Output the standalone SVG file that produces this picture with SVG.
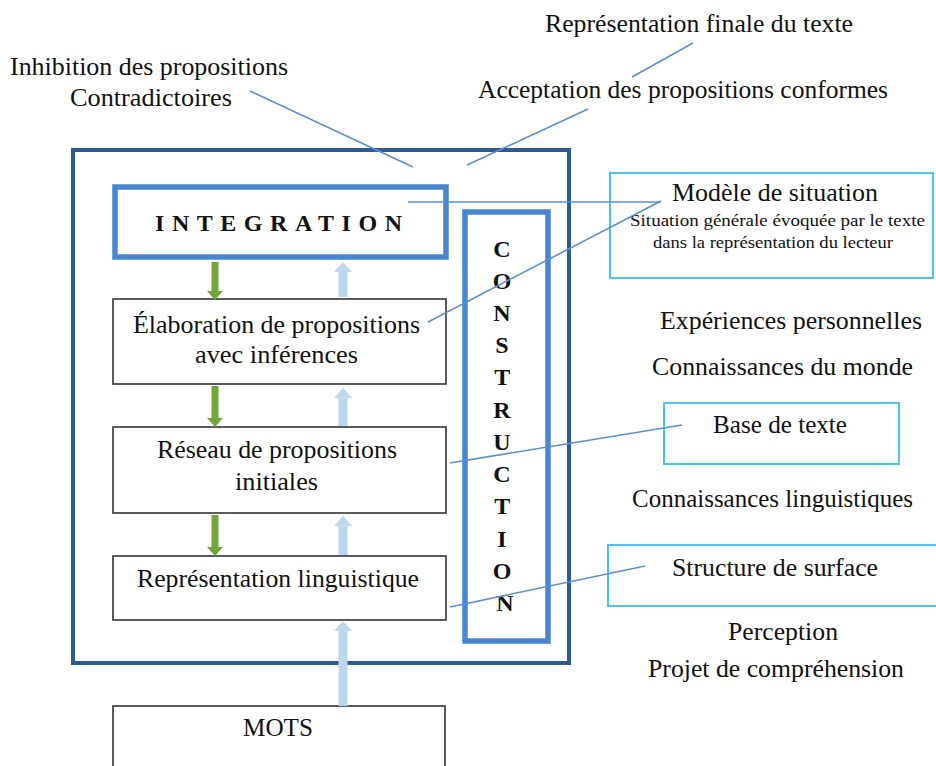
<svg xmlns="http://www.w3.org/2000/svg" width="936" height="766" viewBox="0 0 936 766">
<style>
  .t { font-family: "Liberation Serif", "DejaVu Serif", serif; font-size: 25px; fill: #111111; }
  .s { font-family: "Liberation Serif", "DejaVu Serif", serif; font-size: 16px; fill: #111111; }
  .b { font-family: "Liberation Serif", "DejaVu Serif", serif; font-size: 24px; font-weight: bold; fill: #111111; }
  .box { fill: #ffffff; stroke: #333333; stroke-width: 1.6; }
  .cyan { fill: #ffffff; stroke: #4cc3ee; stroke-width: 2; }
  .blue { fill: none; stroke: #4a86d0; stroke-width: 5.5; }
  .outer { fill: none; stroke: #2e5a94; stroke-width: 4; }
  .conn { stroke: #5b8fcf; stroke-width: 1.6; fill: none; }
  .green { fill: #72a53a; }
  .lblue { fill: #bdd7ee; }
</style>
<rect width="936" height="766" fill="#ffffff"/>

<g id="outer-frame">
  <rect class="outer" x="73" y="150" width="496" height="513"/>
</g>

<g id="integration">
  <rect class="blue" x="115" y="187" width="331" height="70"/>
  <text class="b" x="155" y="231" textLength="247" lengthAdjust="spacing">INTEGRATION</text>
</g>

<g id="construction">
  <rect class="blue" x="465" y="212" width="83" height="429"/>
  <text class="b" text-anchor="middle">
    <tspan x="505" y="257">C</tspan>
    <tspan x="505" y="289">O</tspan>
    <tspan x="505" y="321">N</tspan>
    <tspan x="505" y="353">S</tspan>
    <tspan x="505" y="385">T</tspan>
    <tspan x="505" y="418">R</tspan>
    <tspan x="505" y="450">U</tspan>
    <tspan x="505" y="482">C</tspan>
    <tspan x="505" y="514">T</tspan>
    <tspan x="505" y="547">I</tspan>
    <tspan x="505" y="579">O</tspan>
    <tspan x="505" y="611">N</tspan>
  </text>
</g>

<g id="elaboration">
  <rect class="box" x="113" y="299" width="333" height="85"/>
  <text class="t" x="133" y="333" textLength="287" lengthAdjust="spacingAndGlyphs">Élaboration de propositions</text>
  <text class="t" x="195" y="363" textLength="163" lengthAdjust="spacingAndGlyphs">avec inférences</text>
</g>

<g id="reseau">
  <rect class="box" x="113" y="427" width="333" height="86"/>
  <text class="t" x="157" y="458" textLength="240" lengthAdjust="spacingAndGlyphs">Réseau de propositions</text>
  <text class="t" x="235" y="490" textLength="83" lengthAdjust="spacingAndGlyphs">initiales</text>
</g>

<g id="representation">
  <rect class="box" x="113" y="556" width="333" height="64"/>
  <text class="t" x="137" y="587" textLength="282" lengthAdjust="spacingAndGlyphs">Représentation linguistique</text>
</g>

<g id="mots">
  <rect class="box" x="113" y="706" width="332" height="80"/>
  <text class="t" x="243" y="736" textLength="70" lengthAdjust="spacingAndGlyphs">MOTS</text>
</g>

<g id="modele">
  <rect class="cyan" x="610" y="173" width="323" height="105"/>
  <text class="t" x="672" y="201" textLength="206" lengthAdjust="spacingAndGlyphs">Modèle de situation</text>
  <text class="s" x="630" y="226" textLength="295" lengthAdjust="spacingAndGlyphs">Situation générale évoquée par le texte</text>
  <text class="s" x="653" y="248" textLength="240" lengthAdjust="spacingAndGlyphs">dans la représentation du lecteur</text>
</g>

<g id="base-texte">
  <rect class="cyan" x="664" y="403" width="235" height="61"/>
  <text class="t" x="713" y="433" textLength="134" lengthAdjust="spacingAndGlyphs">Base de texte</text>
</g>

<g id="structure-surface">
  <rect class="cyan" x="608" y="545" width="340" height="61"/>
  <text class="t" x="672" y="576" textLength="206" lengthAdjust="spacingAndGlyphs">Structure de surface</text>
</g>

<g id="labels">
  <text class="t" x="545" y="32" textLength="308" lengthAdjust="spacingAndGlyphs">Représentation finale du texte</text>
  <text class="t" x="10" y="75" textLength="278" lengthAdjust="spacingAndGlyphs">Inhibition des propositions</text>
  <text class="t" x="70" y="106" textLength="162" lengthAdjust="spacingAndGlyphs">Contradictoires</text>
  <text class="t" x="478" y="98" textLength="410" lengthAdjust="spacingAndGlyphs">Acceptation des propositions conformes</text>
  <text class="t" x="660" y="329" textLength="262" lengthAdjust="spacingAndGlyphs">Expériences personnelles</text>
  <text class="t" x="652" y="375" textLength="261" lengthAdjust="spacingAndGlyphs">Connaissances du monde</text>
  <text class="t" x="632" y="507" textLength="281" lengthAdjust="spacingAndGlyphs">Connaissances linguistiques</text>
  <text class="t" x="728" y="640" textLength="110" lengthAdjust="spacingAndGlyphs">Perception</text>
  <text class="t" x="648" y="677" textLength="256" lengthAdjust="spacingAndGlyphs">Projet de compréhension</text>
</g>

<g id="connectors">
  <polygon class="green" points="211.5,262 218.5,262 218.5,291 223,291 215,300 207,291 211.5,291"/>
  <polygon class="green" points="211.5,386 218.5,386 218.5,418 223,418 215,427 207,418 211.5,418"/>
  <polygon class="green" points="211.5,515 218.5,515 218.5,547 223,547 215,556 207,547 211.5,547"/>
  <polygon class="lblue" points="338.5,297 347.5,297 347.5,272 352,272 343,262 334,272 338.5,272"/>
  <polygon class="lblue" points="338.5,426 347.5,426 347.5,398 352,398 343,388 334,398 338.5,398"/>
  <polygon class="lblue" points="338.5,555 347.5,555 347.5,526 352,526 343,516 334,526 338.5,526"/>
  <polygon class="lblue" points="338.5,706 347.5,706 347.5,631 352,631 343,621 334,631 338.5,631"/>
  <line class="conn" x1="250" y1="91" x2="413" y2="167"/>
  <line class="conn" x1="588" y1="109" x2="467" y2="165"/>
  <line class="conn" x1="632" y1="77" x2="693" y2="43"/>
  <line class="conn" x1="408" y1="202" x2="661" y2="202"/>
  <line class="conn" x1="428" y1="322" x2="661" y2="201"/>
  <line class="conn" x1="450" y1="463" x2="682" y2="425"/>
  <line class="conn" x1="450" y1="607" x2="645" y2="566"/>
</g>
</svg>
